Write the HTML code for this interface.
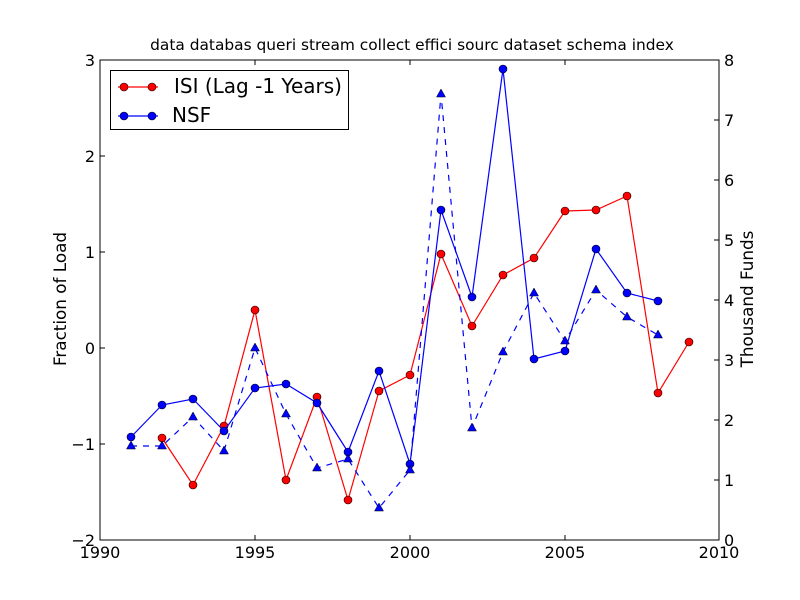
<!DOCTYPE html>
<html><head><style>body{margin:0;background:#fff}svg{display:block}text{font-family:"DejaVu Sans","Liberation Sans",sans-serif}</style></head>
<body>
<svg width="800" height="600" xmlns="http://www.w3.org/2000/svg">
<rect width="800" height="600" fill="#fff"/>
<text x="412" y="50" font-size="15.4" text-anchor="middle">data databas queri stream collect effici sourc dataset schema index</text>
<g stroke="#000" stroke-width="1">
<line x1="100" y1="540" x2="100" y2="535"/><line x1="100" y1="60" x2="100" y2="65"/>
<line x1="255" y1="540" x2="255" y2="535"/><line x1="255" y1="60" x2="255" y2="65"/>
<line x1="410" y1="540" x2="410" y2="535"/><line x1="410" y1="60" x2="410" y2="65"/>
<line x1="565" y1="540" x2="565" y2="535"/><line x1="565" y1="60" x2="565" y2="65"/>
<line x1="719" y1="540" x2="719" y2="535"/><line x1="719" y1="60" x2="719" y2="65"/>
<line x1="100" y1="60" x2="105" y2="60"/><line x1="100" y1="156" x2="105" y2="156"/><line x1="100" y1="252" x2="105" y2="252"/><line x1="100" y1="348" x2="105" y2="348"/><line x1="100" y1="444" x2="105" y2="444"/><line x1="100" y1="540" x2="105" y2="540"/>
<line x1="719" y1="60" x2="714" y2="60"/><line x1="719" y1="120" x2="714" y2="120"/><line x1="719" y1="180" x2="714" y2="180"/><line x1="719" y1="240" x2="714" y2="240"/><line x1="719" y1="300" x2="714" y2="300"/><line x1="719" y1="360" x2="714" y2="360"/><line x1="719" y1="420" x2="714" y2="420"/><line x1="719" y1="480" x2="714" y2="480"/>
</g>
<g font-size="16" text-anchor="middle">
<text x="100" y="558">1990</text><text x="255" y="558">1995</text><text x="410" y="558">2000</text><text x="565" y="558">2005</text><text x="719" y="558">2010</text>
</g>
<g font-size="16" text-anchor="end">
<text x="95" y="66">3</text><text x="95" y="162">2</text><text x="95" y="258">1</text><text x="95" y="354">0</text><text x="95" y="450">−1</text><text x="95" y="546">−2</text>
</g>
<g font-size="16">
<text x="724" y="66">8</text><text x="724" y="126">7</text><text x="724" y="186">6</text><text x="724" y="246">5</text><text x="724" y="306">4</text><text x="724" y="366">3</text><text x="724" y="426">2</text><text x="724" y="486">1</text><text x="724" y="546">0</text>
</g>
<text transform="translate(66,299) rotate(-90)" font-size="16.8" text-anchor="middle">Fraction of Load</text>
<text transform="translate(753,299) rotate(-90)" font-size="16.8" text-anchor="middle">Thousand Funds</text>
<polyline fill="none" stroke="#f00" stroke-width="1.2" points="162,438 193,485 224,426 255,310 286,480 317,397 348,500 379,391 410,375 441,254 472,326 503,275 534,258 565,211 596,210 627,196 658,393 689,342"/>
<g fill="#f00" stroke="#000" stroke-width="0.6">
<circle cx="162" cy="438" r="4"/><circle cx="193" cy="485" r="4"/><circle cx="224" cy="426" r="4"/><circle cx="255" cy="310" r="4"/><circle cx="286" cy="480" r="4"/><circle cx="317" cy="397" r="4"/><circle cx="348" cy="500" r="4"/><circle cx="379" cy="391" r="4"/><circle cx="410" cy="375" r="4"/><circle cx="441" cy="254" r="4"/><circle cx="472" cy="326" r="4"/><circle cx="503" cy="275" r="4"/><circle cx="534" cy="258" r="4"/><circle cx="565" cy="211" r="4"/><circle cx="596" cy="210" r="4"/><circle cx="627" cy="196" r="4"/><circle cx="658" cy="393" r="4"/><circle cx="689" cy="342" r="4"/>
</g>
<polyline fill="none" stroke="#00f" stroke-width="1.2" points="131,437 162,405 193,399 224,431 255,388 286,384 317,403 348,452 379,371 410,464 441,210 472,297 503,69 534,359 565,351 596,249 627,293 658,301"/>
<g fill="#00f" stroke="#000" stroke-width="0.6">
<circle cx="131" cy="437" r="4"/><circle cx="162" cy="405" r="4"/><circle cx="193" cy="399" r="4"/><circle cx="224" cy="431" r="4"/><circle cx="255" cy="388" r="4"/><circle cx="286" cy="384" r="4"/><circle cx="317" cy="403" r="4"/><circle cx="348" cy="452" r="4"/><circle cx="379" cy="371" r="4"/><circle cx="410" cy="464" r="4"/><circle cx="441" cy="210" r="4"/><circle cx="472" cy="297" r="4"/><circle cx="503" cy="69" r="4"/><circle cx="534" cy="359" r="4"/><circle cx="565" cy="351" r="4"/><circle cx="596" cy="249" r="4"/><circle cx="627" cy="293" r="4"/><circle cx="658" cy="301" r="4"/>
</g>
<polyline fill="none" stroke="#00f" stroke-width="1.2" stroke-dasharray="6,6" points="131,446 162,446 193,417 224,451 255,348 286,414 317,468 348,459 379,508 410,470 441,94 472,428 503,352 534,293 565,341 596,290 627,317 658,335"/>
<g fill="#00f" stroke="#000" stroke-width="0.5">
<path d="M131,441 l4.5,8 h-9z"/><path d="M162,441 l4.5,8 h-9z"/><path d="M193,412 l4.5,8 h-9z"/><path d="M224,446 l4.5,8 h-9z"/><path d="M255,343 l4.5,8 h-9z"/><path d="M286,409 l4.5,8 h-9z"/><path d="M317,463 l4.5,8 h-9z"/><path d="M348,454 l4.5,8 h-9z"/><path d="M379,503 l4.5,8 h-9z"/><path d="M410,465 l4.5,8 h-9z"/><path d="M441,89 l4.5,8 h-9z"/><path d="M472,423 l4.5,8 h-9z"/><path d="M503,347 l4.5,8 h-9z"/><path d="M534,288 l4.5,8 h-9z"/><path d="M565,336 l4.5,8 h-9z"/><path d="M596,285 l4.5,8 h-9z"/><path d="M627,312 l4.5,8 h-9z"/><path d="M658,330 l4.5,8 h-9z"/>
</g>
<rect x="100" y="60" width="619" height="480" fill="none" stroke="#000" stroke-width="1"/>
<rect x="110.5" y="70.5" width="238" height="59" fill="#fff" stroke="#000" stroke-width="1"/>
<line x1="118" y1="87" x2="158" y2="87" stroke="#f00" stroke-width="1.2"/>
<circle cx="124" cy="87" r="4" fill="#f00" stroke="#000" stroke-width="0.6"/><circle cx="152" cy="87" r="4" fill="#f00" stroke="#000" stroke-width="0.6"/>
<line x1="118" y1="116" x2="158" y2="116" stroke="#00f" stroke-width="1.2"/>
<circle cx="124" cy="116" r="4" fill="#00f" stroke="#000" stroke-width="0.6"/><circle cx="152" cy="116" r="4" fill="#00f" stroke="#000" stroke-width="0.6"/>
<text x="174" y="93" font-size="20">ISI (Lag -1 Years)</text>
<text x="172" y="122" font-size="20">NSF</text>
</svg>
</body></html>
